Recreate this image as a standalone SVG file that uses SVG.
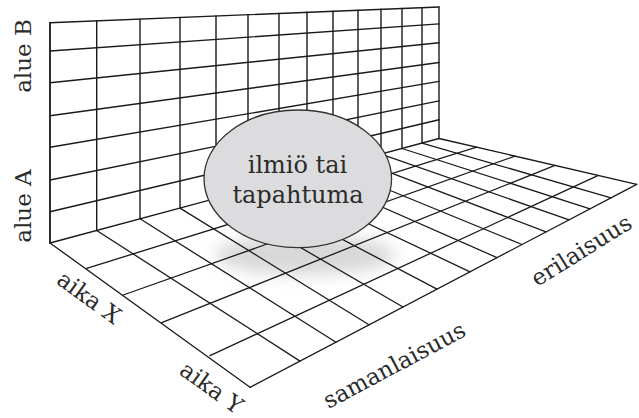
<svg xmlns="http://www.w3.org/2000/svg" width="639" height="418" viewBox="0 0 639 418">
  <defs>
    <filter id="blur" x="-50%" y="-100%" width="200%" height="300%">
      <feGaussianBlur stdDeviation="8"/>
    </filter>
    <style>
      .g { stroke: #1a1a1a; stroke-width: 1.3; fill: none; stroke-linecap: round; }
      .w { stroke: #1a1a1a; stroke-width: 1.4; fill: none; stroke-linecap: round; }
      .lbl { font-family: "DejaVu Serif", "Liberation Serif", serif; font-size: 23px; fill: #2b2b2b; text-anchor: middle; }
      .in { font-family: "DejaVu Serif", "Liberation Serif", serif; font-size: 24px; fill: #2b2b2b; text-anchor: middle; }
    </style>
  </defs>
  <rect width="639" height="418" fill="#ffffff"/>

  <g id="shadow">
    <ellipse cx="305" cy="255" rx="90" ry="20" fill="#a8a8a8" opacity="0.45" filter="url(#blur)"/>
  </g>

  <g id="wall">
    <path class="w" d="M50,22.7L439,7 M50,51L439,23.9 M50,82.7L439,42.8 M50,115.7L439,62.5 M50,147.3L439,81.4 M50,180L439,100.9 M50,211.7L439,119.8"/>
    <path class="w" d="M96.7,20.8V230.5 M140,19.1V218.8 M180,17.5V208.1 M216,16V198.4 M248,14.7V189.8 M279,13.5V181.5 M307,12.3V174 M333,11.3V167 M358,10.3V160.3 M381,9.3V154.1 M402,8.5V148.5 M422,7.7V143.1 M439,7V138.5"/>
    <path class="w" style="stroke-width:1.8" d="M50,22.7V243"/>
  </g>

  <g id="floor">
    <path class="g" d="M50,243L250,387.3 M96.7,230.5L300,361.1 M140,218.8L336,342.2 M180,208.1L369,324.8 M216,198.4L403,307 M248,189.8L437,289.1 M279,181.5L470,271.8 M307,174L497,257.6 M333,167L522,244.5 M358,160.3L546,231.9 M381,154.1L569,219.8 M402,148.5L590,208.8 M422,143.1L611,197.8 M439,138.5L636.7,184.3"/>
    <path class="g" d="M50,243L439,138.5 M86.7,268.3L476.7,147.2 M123.3,295L515,156.1 M161.7,322.7L555,165.4 M210,355.7L598.3,175.4 M250,387.3L636.7,184.3"/>
  </g>

  <g id="node-ilmio">
    <ellipse cx="297.8" cy="178.8" rx="93.8" ry="68.8" fill="#dcdcde" stroke="#333333" stroke-width="1.3"/>
    <text class="in" x="297.5" y="172.5">ilmiö tai</text>
    <text class="in" x="298" y="203">tapahtuma</text>
  </g>

  <g id="labels">
    <text class="lbl" transform="translate(31,56) rotate(-90)">alue B</text>
    <text class="lbl" transform="translate(31,206) rotate(-90)">alue A</text>
    <text class="lbl" transform="translate(84.5,304) rotate(35.8)">aika X</text>
    <text class="lbl" transform="translate(207,394) rotate(35.8)">aika Y</text>
    <text class="lbl" transform="translate(398,372) rotate(-28)">samanlaisuus</text>
    <text class="lbl" transform="translate(585.5,257) rotate(-32)">erilaisuus</text>
  </g>
</svg>
